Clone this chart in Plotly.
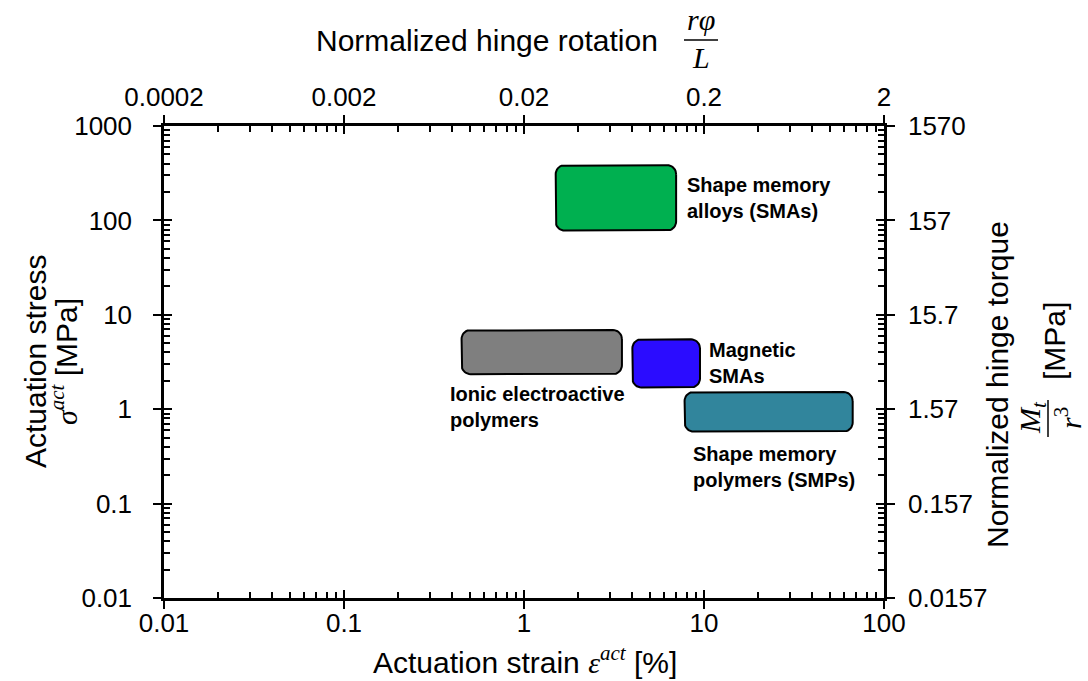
import numpy as np
import plotly.graph_objects as go

# ---------------- data ----------------
materials = ["Shape memory<br>alloys (SMAs)", "Magnetic<br>SMAs",
             "Ionic electroactive<br>polymers", "Shape memory<br>polymers (SMPs)"]
strain_min = [1.5, 4.0, 0.45, 7.8]      # actuation strain [%]
strain_max = [7.0, 9.5, 3.5, 67.0]
stress_min = [78.0, 1.7, 2.35, 0.58]    # actuation stress [MPa]
stress_max = [385.0, 5.5, 6.9, 1.52]
colors = ["#00B050", "#2B0CFF", "#7F7F7F", "#31859C"]

x_ticks = [0.01, 0.1, 1, 10, 100]
y_ticks = [0.01, 0.1, 1, 10, 100, 1000]
top_ticks = [0.0002, 0.002, 0.02, 0.2, 2]
right_ticks = [0.0157, 0.157, 1.57, 15.7, 157, 1570]

# ---------------- layout geometry ----------------
W, H = 1088, 681
L, R, T, B = 164, 204, 126, 83
PW, PH = W - L - R, H - T - B
XDEC = PW / 4.0   # px per decade (x)
YDEC = PH / 5.0   # px per decade (y)

SANS = "Liberation Sans, Arial, sans-serif"
SERIF = "Liberation Serif, Times New Roman, serif"


def px(x):
    return (x - L) / PW


def py(y):
    return (H - B - y) / PH


def rounded_rect(x0, x1, y0, y1, rpx=9, n=10):
    lx0, lx1, ly0, ly1 = np.log10([x0, x1, y0, y1])
    rx, ry = rpx / XDEC, rpx / YDEC
    centers = [(lx1 - rx, ly1 - ry, 0), (lx0 + rx, ly1 - ry, 90),
               (lx0 + rx, ly0 + ry, 180), (lx1 - rx, ly0 + ry, 270)]
    xs, ys = [], []
    for cx, cy, a0 in centers:
        t = np.radians(np.linspace(a0, a0 + 90, n))
        xs.extend(cx + rx * np.cos(t))
        ys.extend(cy + ry * np.sin(t))
    xs.append(xs[0])
    ys.append(ys[0])
    return 10 ** np.array(xs), 10 ** np.array(ys)


fig = go.Figure()

for i in range(len(materials)):
    xs, ys = rounded_rect(strain_min[i], strain_max[i], stress_min[i], stress_max[i])
    fig.add_trace(go.Scatter(x=xs, y=ys, mode="lines", fill="toself",
                             fillcolor=colors[i], line=dict(color="black", width=2),
                             hoverinfo="skip", showlegend=False))

# invisible trace to attach secondary axes
fig.add_trace(go.Scatter(x=top_ticks[:1], y=right_ticks[:1], xaxis="x2", yaxis="y2",
                         mode="markers", marker=dict(opacity=0), hoverinfo="skip",
                         showlegend=False))

minor_x = [m * 10.0 ** e for e in range(-2, 2) for m in range(2, 10)]
minor_y = [m * 10.0 ** e for e in range(-2, 3) for m in range(2, 10)]

common = dict(type="log", showgrid=False, zeroline=False, showline=True,
              linecolor="black", linewidth=2.5, tickcolor="black", tickwidth=2,
              tickfont=dict(family=SANS, size=26, color="black"), tickmode="array")

fig.update_layout(
    width=W, height=H, margin=dict(l=L, r=R, t=T, b=B, pad=0),
    paper_bgcolor="white", plot_bgcolor="white", showlegend=False,
    font=dict(family=SANS, color="black"),
    xaxis=dict(**common, range=[np.log10(x_ticks[0]), np.log10(x_ticks[-1])],
               tickvals=x_ticks, ticktext=[f"{v:g}" for v in x_ticks],
               ticks="outside", ticklen=8, mirror="allticks", ticklabelstandoff=-8,
               minor=dict(ticks="inside", ticklen=6, tickwidth=1.5, tickcolor="black",
                          tickmode="array", tickvals=minor_x)),
    yaxis=dict(**common, range=[np.log10(y_ticks[0]), np.log10(y_ticks[-1])],
               tickvals=y_ticks, ticktext=[f"{v:g}" for v in y_ticks],
               ticks="outside", ticklen=8, mirror="allticks", ticklabelstandoff=16,
               minor=dict(ticks="inside", ticklen=6, tickwidth=1.5, tickcolor="black",
                          tickmode="array", tickvals=minor_y)),
    xaxis2=dict(**common, overlaying="x", side="top", anchor="y2",
                range=[np.log10(top_ticks[0]), np.log10(top_ticks[-1])],
                tickvals=top_ticks, ticktext=[f"{v:g}" for v in top_ticks],
                ticks="inside", ticklen=8, mirror="ticks", ticklabelstandoff=7),
    yaxis2=dict(**common, overlaying="y", side="right", anchor="x2",
                range=[np.log10(right_ticks[0]), np.log10(right_ticks[-1])],
                tickvals=right_ticks, ticktext=[f"{v:g}" for v in right_ticks],
                ticks="inside", ticklen=8, mirror="ticks", ticklabelstandoff=16),
)

annotations = []
label_font = dict(family=SANS, size=20, color="black")
# material labels placed relative to their boxes
placements = [("right", 9, 0), ("right", 7, 0), ("below", -14, -7), ("below", 6, -9)]
for i, (where, dx, dy) in enumerate(placements):
    if where == "right":
        ax_x = np.log10(strain_max[i])
        ax_y = np.log10(np.sqrt(stress_min[i] * stress_max[i]))
        yanchor = "middle"
    else:
        ax_x = np.log10(strain_min[i])
        ax_y = np.log10(stress_min[i])
        yanchor = "top"
    annotations.append(dict(x=ax_x, y=ax_y, xref="x", yref="y", text=f"<b>{materials[i]}</b>",
                            showarrow=False, xanchor="left", yanchor=yanchor, align="left",
                            xshift=dx, yshift=dy, font=label_font))

title_font = dict(family=SANS, size=30, color="black")
math_font = dict(family=SERIF, size=30, color="black")


def pa(x, y, text, font=title_font, angle=0):
    annotations.append(dict(x=px(x), y=py(y), xref="paper", yref="paper", text=text,
                            showarrow=False, xanchor="center", yanchor="middle",
                            textangle=angle, font=font))


# top title
pa(487, 40, "Normalized hinge rotation")
pa(701, 20, "<i>rφ</i>", math_font)
pa(701, 58, "<i>L</i>", math_font)
# bottom title
pa(525, 660, "Actuation strain <span style='font-family:Liberation Serif'><i>ε</i>"
             "<sup><i>act</i></sup></span> [%]")
# left title
pa(35, 362, "Actuation stress", angle=-90)
pa(64, 362, "<span style='font-family:Liberation Serif'><i>σ</i><sup><i>act</i></sup></span>"
            " [MPa]", angle=-90)
# right title
pa(997, 385, "Normalized hinge torque", angle=-90)
pa(1054, 341, "[MPa]", angle=-90)
pa(1032, 418, "<i>M</i><sub><i>t</i></sub>", math_font, angle=-90)
pa(1068, 418, "<i>r</i><sup>3</sup>", math_font, angle=-90)

fig.update_layout(annotations=annotations)

fig.add_shape(type="line", xref="paper", yref="paper", x0=px(684), x1=px(718),
              y0=py(40), y1=py(40), line=dict(color="black", width=1.5))
fig.add_shape(type="line", xref="paper", yref="paper", x0=px(1048), x1=px(1048),
              y0=py(400), y1=py(437), line=dict(color="black", width=1.5))

fig.write_html("out.html")
